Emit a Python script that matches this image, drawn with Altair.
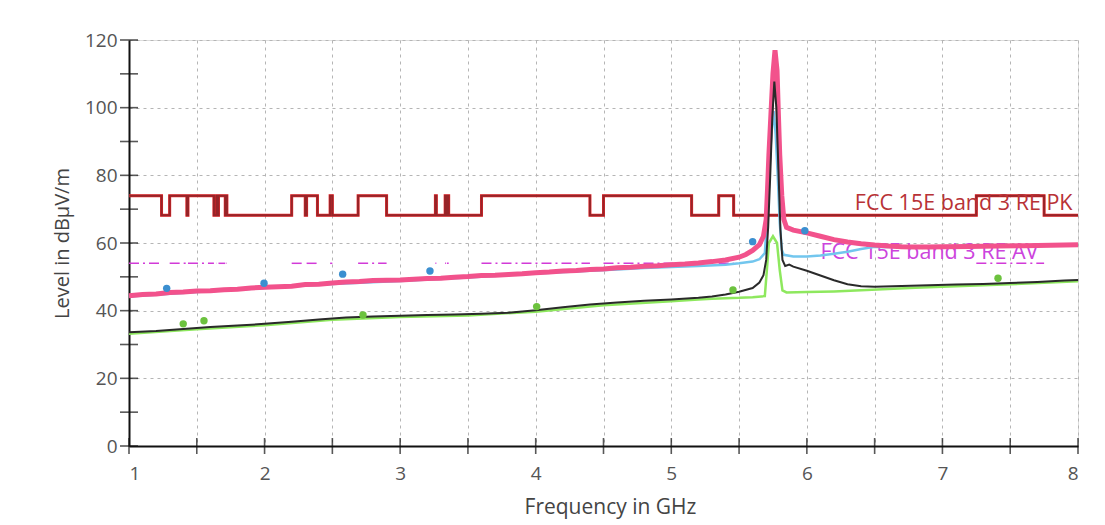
import altair as alt
import pandas as pd

# ---------------- data ----------------
# Restricted bands (GHz): PK limit 74 dBuV/m, AV limit 54 dBuV/m inside; 68.2 dBuV/m outside
band_start = [1.0, 1.3, 1.435, 1.645, 1.66, 1.7188, 2.2, 2.31, 2.4835, 2.69, 3.26, 3.332, 3.3458, 3.6, 4.5, 5.35, 7.25]
band_end = [1.24, 1.427, 1.6265, 1.6465, 1.71, 1.7222, 2.3, 2.39, 2.5, 2.9, 3.267, 3.339, 3.358, 4.4, 5.15, 5.46, 7.75]
pk_high = 74.0
pk_low = 68.2
av_level = 54.0

# pink trace (peak)
pink_f = [1.0, 1.1, 1.2, 1.3, 1.4, 1.5, 1.6, 1.7, 1.8, 1.9, 2.0, 2.1, 2.2, 2.3, 2.4, 2.5, 2.6, 2.7, 2.8, 2.9,
          3.0, 3.1, 3.2, 3.3, 3.4, 3.5, 3.6, 3.7, 3.8, 3.9, 4.0, 4.1, 4.2, 4.3, 4.4, 4.5, 4.6, 4.7, 4.8, 4.9,
          5.0, 5.1, 5.2, 5.3, 5.4, 5.5, 5.55, 5.6, 5.65, 5.68, 5.70, 5.71, 5.72, 5.735, 5.75, 5.765, 5.78,
          5.79, 5.80, 5.815, 5.83, 5.85, 5.9, 6.0, 6.1, 6.2, 6.3, 6.4, 6.5, 6.6, 6.7, 6.8, 6.9, 7.0, 7.2,
          7.4, 7.6, 7.8, 8.0]
pink_v = [44.4, 44.8, 44.9, 45.4, 45.5, 45.8, 45.9, 46.2, 46.3, 46.7, 46.9, 47.1, 47.2, 47.7, 47.8, 48.2, 48.5, 48.6, 48.9, 49.0,
          49.1, 49.3, 49.5, 49.6, 49.9, 50.1, 50.4, 50.5, 50.7, 50.9, 51.2, 51.4, 51.7, 51.9, 52.2, 52.3, 52.7, 52.8, 53.1, 53.3,
          53.6, 53.8, 54.1, 54.5, 55.0, 55.8, 56.6, 57.8, 59.5, 62.0, 67.0, 76.0, 86.0, 98.0, 110.0, 117.0, 111.0,
          98.0, 86.0, 74.0, 67.0, 64.6, 63.8, 63.0, 62.0, 61.0, 60.3, 59.8, 59.4, 59.1, 58.9, 58.8, 58.8, 58.9, 59.0,
          59.1, 59.2, 59.3, 59.5]

# light-blue trace
blue_f = [1.0, 1.5, 2.0, 2.5, 3.0, 3.5, 4.0, 4.4, 4.6, 4.8, 5.0, 5.2, 5.4, 5.5, 5.6, 5.65, 5.69, 5.705, 5.72,
          5.74, 5.755, 5.77, 5.785, 5.80, 5.815, 5.83, 5.9, 6.0, 6.1, 6.2, 6.3, 6.4, 6.5, 7.0, 7.5, 8.0]
blue_v = [44.2, 45.5, 46.7, 47.9, 48.8, 49.8, 51.0, 51.8, 52.2, 52.6, 52.9, 53.2, 53.6, 54.0, 54.5, 55.2, 57.0, 66.0, 80.0,
          93.0, 99.0, 92.0, 80.0, 66.0, 58.0, 56.5, 56.0, 56.0, 56.3, 56.8, 57.4, 58.2, 58.9, 58.8, 59.0, 59.3]

# black trace
black_f = [1.0, 1.2, 1.4, 1.6, 1.8, 2.0, 2.2, 2.4, 2.6, 2.8, 3.0, 3.2, 3.4, 3.6, 3.8, 4.0, 4.2, 4.4, 4.6, 4.8,
           5.0, 5.2, 5.3, 5.4, 5.5, 5.6, 5.65, 5.68, 5.70, 5.715, 5.73, 5.745, 5.76, 5.775, 5.79, 5.805, 5.82,
           5.84, 5.87, 5.9, 6.0, 6.1, 6.2, 6.3, 6.4, 6.5, 6.7, 6.9, 7.1, 7.3, 7.5, 7.7, 7.9, 8.0]
black_v = [33.6, 34.0, 34.6, 35.2, 35.6, 36.1, 36.7, 37.4, 38.0, 38.3, 38.5, 38.7, 38.9, 39.1, 39.4, 40.1, 41.0, 41.8, 42.4, 42.9,
           43.3, 43.8, 44.2, 44.8, 45.6, 46.7, 48.3, 50.5, 55.0, 65.0, 80.0, 97.0, 107.7, 100.0, 82.0, 64.0, 55.0,
           53.2, 53.6, 53.0, 51.8, 50.4, 49.0, 47.8, 47.2, 47.1, 47.3, 47.5, 47.7, 47.9, 48.2, 48.5, 48.9, 49.1]

# light-green trace
green_f = [1.0, 1.5, 2.0, 2.5, 3.0, 3.5, 4.0, 4.5, 5.0, 5.2, 5.3, 5.4, 5.5, 5.6, 5.69, 5.705, 5.72, 5.75, 5.78,
           5.80, 5.82, 5.85, 6.0, 6.2, 6.4, 6.6, 6.8, 7.0, 7.5, 8.0]
green_v = [33.2, 34.5, 35.7, 37.3, 38.1, 38.6, 39.7, 41.6, 42.8, 43.3, 43.5, 43.7, 43.8, 44.0, 44.3, 52.0, 60.0, 62.0, 60.0,
           52.0, 46.0, 45.4, 45.5, 45.7, 46.0, 46.4, 46.8, 47.1, 47.8, 48.7]

# final measurement points
bdot_f = [1.278, 1.996, 2.576, 3.22, 5.60, 5.985]
bdot_v = [46.6, 48.1, 50.8, 51.7, 60.4, 63.6]
gdot_f = [1.40, 1.553, 2.726, 4.007, 5.455, 7.41]
gdot_v = [36.1, 37.0, 38.7, 41.2, 46.1, 49.6]

# limit line labels
lab_text = ["FCC 15E band 3 RE PK", "FCC 15E band 3 RE AV"]
lab_f = [6.354, 6.10]
lab_v = [69.8, 55.4]

y_ticks = list(range(0, 121, 10))
x_ticks = [1.0, 1.5, 2.0, 2.5, 3.0, 3.5, 4.0, 4.5, 5.0, 5.5, 6.0, 6.5, 7.0, 7.5, 8.0]

# ---------------- build tables ----------------
pk_pts = []
for s, e in zip(band_start, band_end):
    if s > 1.0:
        pk_pts.append((s, pk_low))
    pk_pts.append((s, pk_high))
    pk_pts.append((e, pk_high))
    pk_pts.append((e, pk_low))
pk_pts.append((8.0, pk_low))
pk_df = pd.DataFrame({"f": [p[0] for p in pk_pts], "v": [p[1] for p in pk_pts], "i": list(range(len(pk_pts)))})

av_rows = []
for k, (s, e) in enumerate(zip(band_start, band_end)):
    av_rows.append({"f": s, "v": av_level, "seg": k})
    av_rows.append({"f": e, "v": av_level, "seg": k})
av_df = pd.DataFrame(av_rows)

def tr(fs, vs):
    return pd.DataFrame({"f": fs, "v": vs, "i": list(range(len(fs)))})

xs = alt.Scale(domain=[1, 8], nice=False, zero=False)
ys = alt.Scale(domain=[0, 120], nice=False, zero=False)

FONT = "Open Sans"

X = alt.X("f:Q", scale=xs,
          axis=alt.Axis(values=x_ticks, title="Frequency in GHz",
                        labelExpr="datum.value % 1 === 0 ? format(datum.value, 'd') : ''",
                        grid=True, gridDash=[3, 4], gridColor="#b5b5b5", gridWidth=1,
                        ticks=False, labelPadding=18, domainColor="#111", domainWidth=2,
                        labelFont=FONT, labelFontSize=19, labelColor="#555",
                        titleFont=FONT, titleFontSize=21, titleFontWeight="normal", titleColor="#444",
                        titleX=481, titleY=61, titleBaseline="middle", titleAlign="center"))
Y = alt.Y("v:Q", scale=ys,
          axis=alt.Axis(values=y_ticks, title="Level in dBµV/m",
                        labelExpr="datum.value % 20 === 0 ? datum.label : ''",
                        grid=True, gridDash=[3, 4], gridColor="#b5b5b5", gridWidth=1,
                        ticks=False, labelPadding=12, domainColor="#111", domainWidth=2,
                        labelFont=FONT, labelFontSize=19, labelColor="#555",
                        titleFont=FONT, titleFontSize=20, titleFontWeight="normal", titleColor="#444",
                        titleAngle=270, titleX=-67, titleY=203, titleBaseline="middle", titleAlign="center"))

pk_red = alt.Chart(pk_df).mark_line(color="#e8262a", strokeWidth=3, interpolate="linear").encode(
    x=X, y=Y, order="i:Q")
pk_dark = alt.Chart(pk_df).mark_line(color="#962428", strokeWidth=2).encode(
    x=alt.X("f:Q", scale=xs), y=alt.Y("v:Q", scale=ys), order="i:Q")
av_line = alt.Chart(av_df).mark_line(color="#d23ad8", strokeWidth=1.5, strokeDash=[10, 4, 2, 4]).encode(
    x=alt.X("f:Q", scale=xs), y=alt.Y("v:Q", scale=ys), detail="seg:N")

lab_df = pd.DataFrame({"t": lab_text, "f": lab_f, "v": lab_v, "c": ["#b83236", "#cc44dd"]})
labels = alt.Chart(lab_df).mark_text(align="left", baseline="alphabetic", font=FONT, fontSize=21.5).encode(
    x=alt.X("f:Q", scale=xs), y=alt.Y("v:Q", scale=ys), text="t:N",
    color=alt.Color("c:N", scale=None))

def line(fs, vs, color, w):
    return alt.Chart(tr(fs, vs)).mark_line(color=color, strokeWidth=w).encode(
        x=alt.X("f:Q", scale=xs), y=alt.Y("v:Q", scale=ys), order="i:Q")

blue = line(blue_f, blue_v, "#72c6ee", 2.5)
pink = line(pink_f, pink_v, "#f2528c", 5)
green = line(green_f, green_v, "#8ee85e", 2.5)
black = line(black_f, black_v, "#2a2a2a", 2)

bdots = alt.Chart(tr(bdot_f, bdot_v)).mark_circle(color="#3b8fd0", size=55, opacity=1).encode(
    x=alt.X("f:Q", scale=xs), y=alt.Y("v:Q", scale=ys))
gdots = alt.Chart(tr(gdot_f, gdot_v)).mark_circle(color="#6cc23e", size=55, opacity=1).encode(
    x=alt.X("f:Q", scale=xs), y=alt.Y("v:Q", scale=ys))

ytk = alt.Chart(pd.DataFrame({"v": y_ticks})).mark_tick(orient="horizontal", size=18, thickness=1.6, color="#111").encode(
    x=alt.datum(1.0, scale=xs), y=alt.Y("v:Q", scale=ys))
xtk = alt.Chart(pd.DataFrame({"f": x_ticks})).mark_tick(orient="vertical", size=16, thickness=1.6, color="#111").encode(
    x=alt.X("f:Q", scale=xs), y=alt.datum(0.0, scale=ys))

chart = alt.layer(pk_red, pk_dark, av_line, labels, blue, pink, green, black, bdots, gdots, ytk, xtk).properties(
    width=949, height=406,
    autosize=alt.AutoSizeParams(type="none"),
    padding={"left": 121, "top": 32, "right": 12, "bottom": 76},
).configure_view(stroke=None).configure(background="white")

chart.save("out.html", embed_options={"renderer": "svg", "actions": False})
